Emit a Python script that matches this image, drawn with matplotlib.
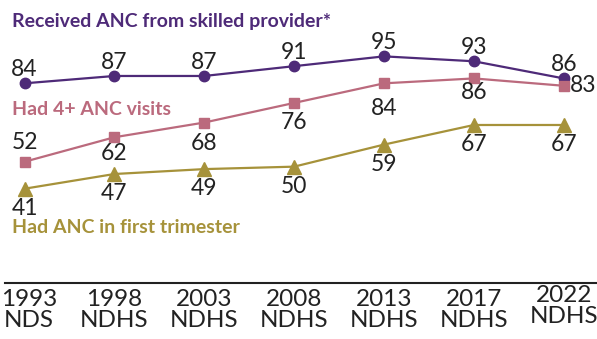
import matplotlib.pyplot as plt
from matplotlib.transforms import ScaledTranslation

# survey rounds and indicator values (%)
surveys = ["1993\nNDS", "1998\nNDHS", "2003\nNDHS", "2008\nNDHS", "2013\nNDHS", "2017\nNDHS", "2022\nNDHS"]
skilled = [84, 87, 87, 91, 95, 93, 86]
visits4 = [52, 62, 68, 76, 84, 86, 83]
first_tri = [41, 47, 49, 50, 59, 67, 67]

PURPLE = "#4e2a78"
PINK = "#bb6a7d"
GOLD = "#a6923a"

plt.rcParams["font.family"] = ["Lato", "DejaVu Sans"]

fig = plt.figure(figsize=(5.97, 3.39), dpi=100)
ax = fig.add_axes([0.008, 0.165, 0.992, 0.835])

x = list(range(len(surveys)))
ax.plot(x, skilled, color=PURPLE, lw=1.6, marker="o", ms=7.5, zorder=3)
ax.plot(x, visits4, color=PINK, lw=1.6, marker="s", ms=7, zorder=3)
ax.plot(x, first_tri, color=GOLD, lw=1.6, marker="^", ms=10, zorder=3)

# value labels: offsets in points from each marker
lab = dict(fontsize=16.5, color="#222222", ha="center", va="center")
for i, v in enumerate(skilled):
    ax.annotate(str(v), (i, v), xytext=(0, 10), textcoords="offset points", **lab)
pink_off = [(0, 14), (0, -12), (0, -15), (0, -14), (0, -18), (0, -10), (14, 0)]
for i, v in enumerate(visits4):
    ax.annotate(str(v), (i, v), xytext=pink_off[i], textcoords="offset points", **lab)
for i, v in enumerate(first_tri):
    ax.annotate(str(v), (i, v), xytext=(0, -14), textcoords="offset points", **lab)

# series names
ax.text(0.012, 0.925, "Received ANC from skilled provider*", transform=ax.transAxes,
        fontsize=14, fontweight="bold", color=PURPLE, ha="left", va="center")
ax.text(0.012, 0.612, "Had 4+ ANC visits", transform=ax.transAxes,
        fontsize=14, fontweight="bold", color=PINK, ha="left", va="center")
ax.text(0.012, 0.198, "Had ANC in first trimester", transform=ax.transAxes,
        fontsize=14, fontweight="bold", color=GOLD, ha="left", va="center")

ax.set_xlim(-0.22, 6.37)
ax.set_ylim(2.5, 118)
ax.set_xticks(x)
ax.set_xticklabels(surveys, fontsize=17.5, color="#222222", linespacing=1.0)
ax.tick_params(axis="x", length=0, pad=4)
ticklabels = ax.get_xticklabels()
# keep the first label inside the left edge
ticklabels[0].set_transform(ticklabels[0].get_transform()
                            + ScaledTranslation(3 / 72, 0, fig.dpi_scale_trans))
# last round's label sits a little higher
ticklabels[-1].set_y(0.012)
ax.set_yticks([])
for side in ["top", "left", "right"]:
    ax.spines[side].set_visible(False)
ax.spines["bottom"].set_linewidth(1.5)
ax.spines["bottom"].set_color("#222222")

fig.savefig("out.png", dpi=100)
